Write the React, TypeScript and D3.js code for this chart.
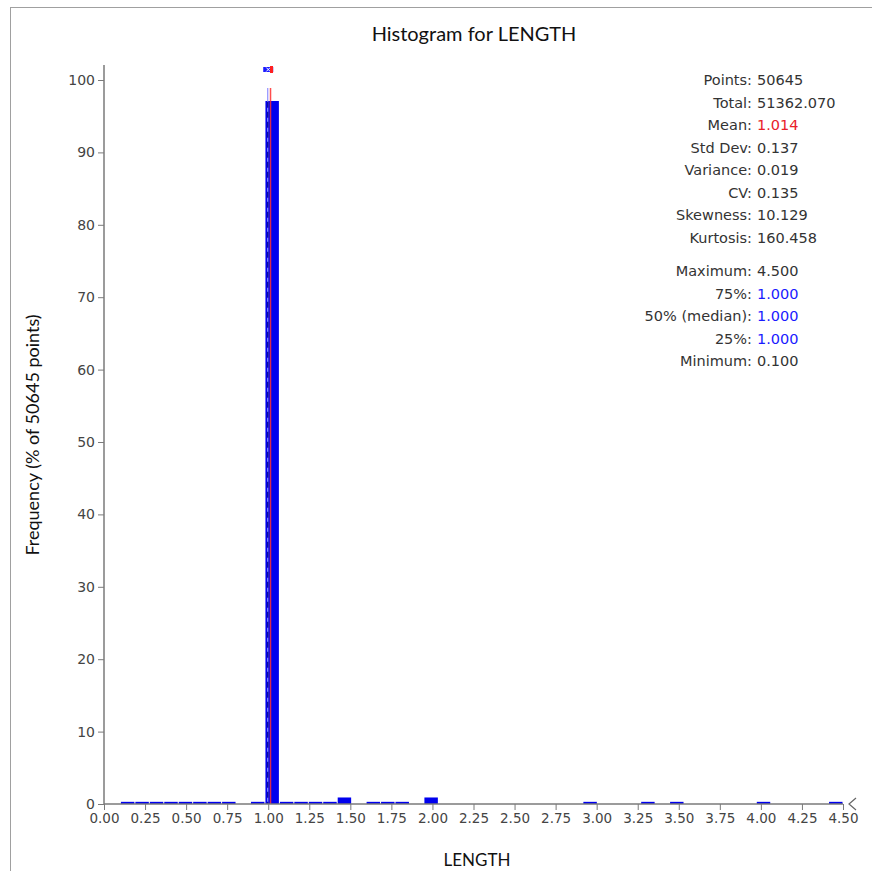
import React, { useEffect, useRef } from "react";
import * as d3 from "d3";

// histogram bins: 50 bins from min 0.100 to max 4.500
const binMin = 0.1;
const binMax = 4.5;
const binCount = 50;
// percent of points per bin
const binPercents = [
  0.3, 0.3, 0.3, 0.3, 0.3, 0.3, 0.3, 0.3, 0, 0.3,
  97.1, 0.3, 0.3, 0.3, 0.3, 0.9, 0, 0.3, 0.3, 0.3,
  0, 0.9, 0, 0, 0, 0, 0, 0, 0, 0,
  0, 0, 0.3, 0, 0, 0, 0.3, 0, 0.3, 0,
  0, 0, 0, 0, 0.3, 0, 0, 0, 0, 0.3,
];

const xTicks = [0, 0.25, 0.5, 0.75, 1, 1.25, 1.5, 1.75, 2, 2.25, 2.5, 2.75, 3, 3.25, 3.5, 3.75, 4, 4.25, 4.5];
const yTicks = [0, 10, 20, 30, 40, 50, 60, 70, 80, 90, 100];

const meanValue = 1.014;
const medianValue = 1.0;
const q1Value = 1.0;
const q3Value = 1.0;

const statsTop = [
  ["Points:", "50645", "#333"],
  ["Total:", "51362.070", "#333"],
  ["Mean:", "1.014", "#e8202a"],
  ["Std Dev:", "0.137", "#333"],
  ["Variance:", "0.019", "#333"],
  ["CV:", "0.135", "#333"],
  ["Skewness:", "10.129", "#333"],
  ["Kurtosis:", "160.458", "#333"],
];
const statsBottom = [
  ["Maximum:", "4.500", "#333"],
  ["75%:", "1.000", "#1a1aff"],
  ["50% (median):", "1.000", "#1a1aff"],
  ["25%:", "1.000", "#1a1aff"],
  ["Minimum:", "0.100", "#333"],
];

const W = 872;
const H = 871;

const App = () => {
  const ref = useRef<SVGSVGElement>(null);

  useEffect(() => {
    const svg: any = d3.select(ref.current);
    svg.selectAll("*").remove();

    const left = 104;
    const right = 843;
    const top = 80;
    const bottom = 804;

    const x = d3.scaleLinear().domain([0, 4.5]).range([left, right]);
    const y = d3.scaleLinear().domain([0, 100]).range([bottom, top]);
    const axisColor = "#7a7a7a";
    const tickFont = "'DejaVu Sans', Verdana, sans-serif";

    // frame
    svg.append("rect").attr("x", 10.5).attr("y", 7.5).attr("width", 900).attr("height", 900)
      .attr("fill", "white").attr("stroke", "#a0a0a0");

    // title
    svg.append("text").attr("x", 474).attr("y", 41).attr("text-anchor", "middle")
      .attr("font-family", "Lato, 'Open Sans', sans-serif").attr("font-size", 20).attr("fill", "#111")
      .text("Histogram for LENGTH");

    // bars (small gap between neighbouring bins)
    const bw = (binMax - binMin) / binCount;
    const bins = binPercents.map((p, i) => ({ x0: binMin + i * bw, x1: binMin + (i + 1) * bw, p }));
    svg.append("g").selectAll("rect").data(bins.filter((d) => d.p > 0)).enter().append("rect")
      .attr("x", (d: any) => x(d.x0) + 0.5)
      .attr("width", (d: any) => x(d.x1) - x(d.x0) - 1)
      .attr("y", (d: any) => y(d.p))
      .attr("height", (d: any) => bottom - y(d.p))
      .attr("fill", "#0000ee");

    // median (dashed blue) and mean (red) lines
    svg.append("line").attr("x1", x(medianValue) - 0.5).attr("x2", x(medianValue) - 0.5)
      .attr("y1", 88).attr("y2", bottom)
      .attr("stroke", "#9090ff").attr("stroke-width", 1.2);
    svg.append("line").attr("x1", x(medianValue) - 0.5).attr("x2", x(medianValue) - 0.5)
      .attr("y1", y(97)).attr("y2", bottom)
      .attr("stroke", "#00008b").attr("stroke-width", 1.2).attr("stroke-dasharray", "6,4");
    svg.append("line").attr("x1", x(meanValue)).attr("x2", x(meanValue))
      .attr("y1", 88).attr("y2", bottom)
      .attr("stroke", "#ff3030").attr("stroke-width", 1.5).attr("opacity", 0.85);

    // small box marker at top (quartiles + mean)
    svg.append("rect").attr("x", x(q1Value) - 5).attr("y", 67)
      .attr("width", x(q3Value) - x(q1Value) + 10).attr("height", 5).attr("fill", "#1a1aff");
    svg.append("path")
      .attr("d", `M${x(medianValue) - 2},67.5 L${x(medianValue) + 2},71.5 M${x(medianValue) + 2},67.5 L${x(medianValue) - 2},71.5`)
      .attr("stroke", "white").attr("stroke-width", 1);
    svg.append("rect").attr("x", x(meanValue) - 0.5).attr("y", 66).attr("width", 3).attr("height", 7)
      .attr("fill", "#ff2020");

    // y axis
    const yAxis = svg.append("g").attr("transform", `translate(${left},0)`)
      .call(d3.axisLeft(y).tickValues(yTicks).tickSize(6).tickPadding(3).tickFormat(d3.format("d")));
    yAxis.select(".domain").attr("d", `M0,65V${bottom}`).attr("stroke", axisColor).attr("stroke-width", 1.5);
    yAxis.selectAll("line").attr("stroke", axisColor);
    yAxis.selectAll("text").attr("font-family", tickFont).attr("font-size", 14).attr("fill", "#444");

    // x axis
    const xAxis = svg.append("g").attr("transform", `translate(0,${bottom})`)
      .call(d3.axisBottom(x).tickValues(xTicks).tickSize(6).tickPadding(3).tickFormat(d3.format(".2f")));
    xAxis.select(".domain").attr("d", `M${left},0H${right}`).attr("stroke", axisColor).attr("stroke-width", 1.5);
    xAxis.selectAll("line").attr("stroke", axisColor);
    xAxis.selectAll("text").attr("font-family", tickFont).attr("font-size", 13.5).attr("fill", "#444");

    // arrow at end of x axis
    svg.append("path").attr("d", `M${right + 13},${bottom - 6} L${right + 6},${bottom} L${right + 13},${bottom + 6}`)
      .attr("fill", "none").attr("stroke", "#666").attr("stroke-width", 1.2);

    // axis labels
    svg.append("text").attr("x", 477).attr("y", 866).attr("text-anchor", "middle")
      .attr("font-family", "Lato, 'Open Sans', sans-serif").attr("font-size", 17).attr("fill", "#111")
      .text("LENGTH");
    svg.append("text").attr("transform", "translate(39,435) rotate(-90)").attr("text-anchor", "middle")
      .attr("font-family", "Lato, 'Open Sans', sans-serif").attr("font-size", 18).attr("fill", "#111")
      .text("Frequency (% of 50645 points)");

    // stats text
    const statFont = "'DejaVu Sans', Verdana, sans-serif";
    const drawStats = (rows: string[][], y0: number) => {
      rows.forEach((r, i) => {
        const ty = y0 + i * 22.5;
        svg.append("text").attr("x", 752).attr("y", ty).attr("text-anchor", "end")
          .attr("font-family", statFont).attr("font-size", 14.5).attr("fill", "#333").text(r[0]);
        svg.append("text").attr("x", 757).attr("y", ty)
          .attr("font-family", statFont).attr("font-size", 14.5).attr("fill", r[2]).text(r[1]);
      });
    };
    drawStats(statsTop, 85);
    drawStats(statsBottom, 276);
  }, []);

  return <svg ref={ref} width={W} height={H} style={{ position: "absolute", left: 0, top: 0 }} />;
};

export default App;
